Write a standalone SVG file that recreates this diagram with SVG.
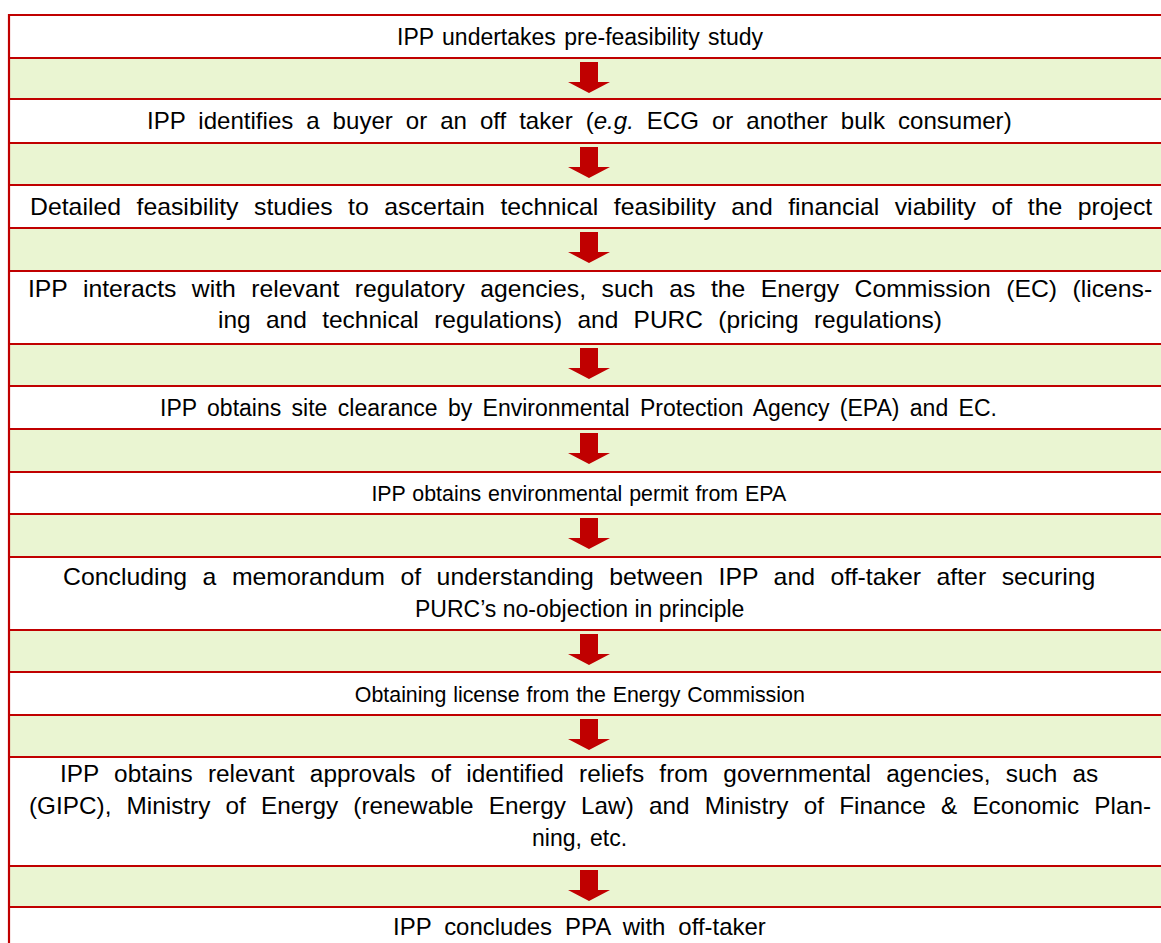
<svg xmlns="http://www.w3.org/2000/svg" width="1161" height="943" viewBox="0 0 1161 943">
<style>
.g{fill:#EAF5D2}
.ln{stroke:#C00000;stroke-width:2.2;fill:none}
.t{font-family:"Liberation Sans",Arial,sans-serif;font-size:23px;fill:#000}
.ar{fill:#C00000;filter:url(#soft)}
</style>
<defs>
<filter id="soft" x="-20%" y="-20%" width="140%" height="140%"><feGaussianBlur stdDeviation="0.6"/></filter>
<path id="arrow" d="M-9,4 H9 V24 H21 L0,35 L-21,24 H-9 Z"/>
</defs>
<rect width="1161" height="943" fill="#fff"/>
<g id="bands">
<rect class="g" x="9" y="58" width="1152" height="41"/>
<rect class="g" x="9" y="143" width="1152" height="42"/>
<rect class="g" x="9" y="228" width="1152" height="43"/>
<rect class="g" x="9" y="344" width="1152" height="42"/>
<rect class="g" x="9" y="429" width="1152" height="43"/>
<rect class="g" x="9" y="514" width="1152" height="43"/>
<rect class="g" x="9" y="630" width="1152" height="42"/>
<rect class="g" x="9" y="715" width="1152" height="42"/>
<rect class="g" x="9" y="866" width="1152" height="41"/>
</g>
<g id="grid">
<path class="ln" d="M9,14 V943 M8,15 H1161 M8,58 H1161 M8,99 H1161 M8,143 H1161 M8,185 H1161 M8,228 H1161 M8,271 H1161 M8,344 H1161 M8,386 H1161 M8,429 H1161 M8,472 H1161 M8,514 H1161 M8,557 H1161 M8,630 H1161 M8,672 H1161 M8,715 H1161 M8,757 H1161 M8,866 H1161 M8,907 H1161"/>
</g>
<g id="step1"><text class="t" x="397" y="45" word-spacing="2">IPP undertakes pre-feasibility study</text></g>
<g id="step2"><text class="t" transform="translate(147,129) scale(1.047,1)" word-spacing="6">IPP identifies a buyer or an off taker (<tspan font-style="italic">e.g.</tspan> ECG or another bulk consumer)</text></g>
<g id="step3"><text class="t" transform="translate(30,215) scale(1.079,1)" word-spacing="8">Detailed feasibility studies to ascertain technical feasibility and financial viability of the project</text></g>
<g id="step4">
<text class="t" transform="translate(28,297) scale(1.076,1)" word-spacing="8">IPP interacts with relevant regulatory agencies, such as the Energy Commission (EC) (licens-</text>
<text class="t" transform="translate(218,328) scale(1.065,1)" word-spacing="8">ing and technical regulations) and PURC (pricing regulations)</text>
</g>
<g id="step5"><text class="t" x="160" y="416" word-spacing="4">IPP obtains site clearance by Environmental Protection Agency (EPA) and EC.</text></g>
<g id="step6"><text class="t" transform="translate(371.4,501) scale(0.93,1)" word-spacing="1">IPP obtains environmental permit from EPA</text></g>
<g id="step7">
<text class="t" transform="translate(63,585) scale(1.079,1)" word-spacing="8">Concluding a memorandum of understanding between IPP and off-taker after securing</text>
<text class="t" x="415" y="617">PURC’s no-objection in principle</text>
</g>
<g id="step8"><text class="t" transform="translate(354.8,702) scale(0.93,1)" word-spacing="1">Obtaining license from the Energy Commission</text></g>
<g id="step9">
<text class="t" transform="translate(60,782) scale(1.06,1)" word-spacing="8">IPP obtains relevant approvals of identified reliefs from governmental agencies, such as</text>
<text class="t" transform="translate(29,814) scale(1.058,1)" word-spacing="8">(GIPC), Ministry of Energy (renewable Energy Law) and Ministry of Finance &amp; Economic Plan-</text>
<text class="t" x="532" y="846" word-spacing="1.7">ning, etc.</text>
</g>
<g id="step10"><text class="t" transform="translate(393,935) scale(1.043,1)" word-spacing="6">IPP concludes PPA with off-taker</text></g>
<g id="connectors">
<use href="#arrow" class="ar" x="589" y="58"/>
<use href="#arrow" class="ar" x="589" y="143"/>
<use href="#arrow" class="ar" x="589" y="228"/>
<use href="#arrow" class="ar" x="589" y="344"/>
<use href="#arrow" class="ar" x="589" y="429"/>
<use href="#arrow" class="ar" x="589" y="514"/>
<use href="#arrow" class="ar" x="589" y="630"/>
<use href="#arrow" class="ar" x="589" y="715"/>
<use href="#arrow" class="ar" x="589" y="866"/>
</g>
</svg>
